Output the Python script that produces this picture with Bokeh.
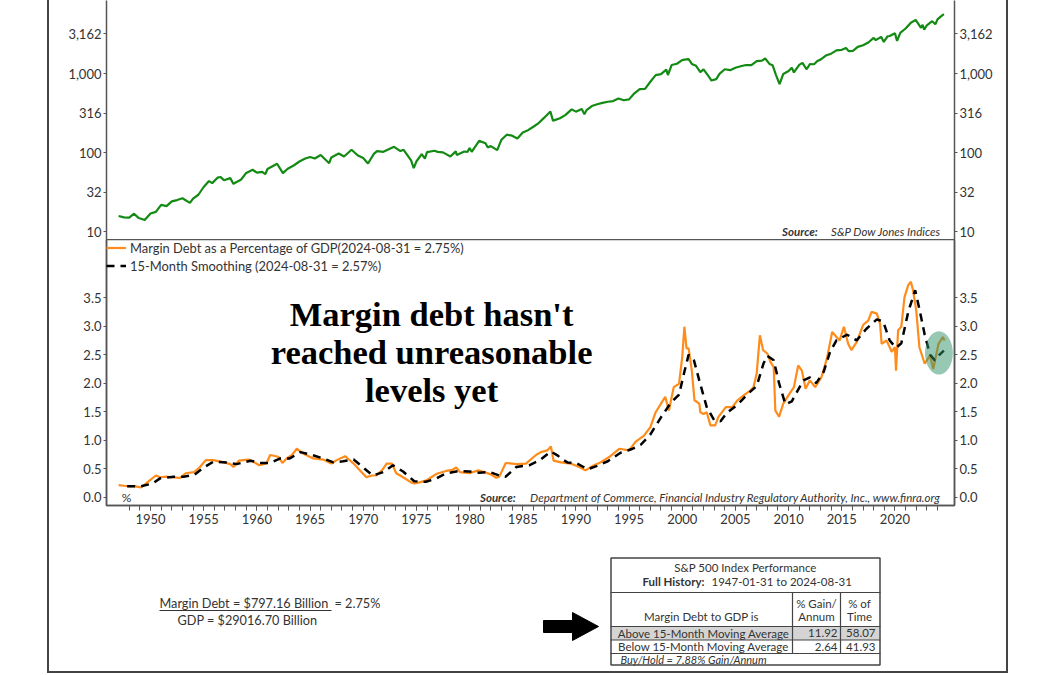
from bokeh.plotting import figure
from bokeh.models import (Range1d, LogAxis, LinearAxis, FixedTicker, NumeralTickFormatter,
                          Legend, LegendItem, Label)
from bokeh.layouts import column
from bokeh.embed import file_html
from bokeh.resources import INLINE

# ---------------- data ----------------
sp_years = [1947.0, 1947.5, 1948.0, 1948.45, 1948.9, 1949.45, 1950.0, 1950.5, 1951.0, 1951.5, 1952.0,
            1952.5, 1953.0, 1953.7, 1954.0, 1954.5, 1955.0, 1955.5, 1955.8, 1956.3, 1956.6, 1956.9,
            1957.5, 1957.8, 1958.0, 1958.5, 1959.0, 1959.6, 1960.0, 1960.5, 1960.8, 1961.0, 1961.9,
            1962.45, 1962.9, 1963.5, 1964.0, 1964.5, 1965.0, 1965.45, 1966.0, 1966.8, 1967.0, 1967.7,
            1968.2, 1968.9, 1969.5, 1970.0, 1970.45, 1971.0, 1971.3, 1971.9, 1972.9, 1973.5, 1973.8,
            1974.5, 1974.75, 1975.0, 1975.5, 1975.8, 1976.0, 1976.7, 1977.0, 1977.5, 1978.2, 1978.7,
            1978.8, 1979.5, 1979.8, 1980.0, 1980.2, 1980.9, 1981.5, 1981.7, 1982.0, 1982.6, 1983.0,
            1983.5, 1984.0, 1984.5, 1985.0, 1985.5, 1986.0, 1986.5, 1987.0, 1987.6, 1987.85, 1988.0,
            1988.5, 1989.0, 1989.6, 1990.0, 1990.55, 1990.8, 1991.0, 1991.5, 1992.0, 1992.5, 1993.0,
            1993.5, 1994.0, 1994.5, 1995.0, 1995.5, 1996.0, 1996.5, 1997.0, 1997.5, 1998.0, 1998.5,
            1998.65, 1999.0, 1999.5, 1999.95, 2000.2, 2000.6, 2000.9, 2001.3, 2001.7, 2002.0, 2002.5,
            2002.75, 2003.2, 2003.5, 2004.0, 2004.5, 2005.0, 2005.5, 2006.0, 2006.5, 2007.0, 2007.5,
            2007.8, 2008.2, 2008.5, 2008.8, 2009.15, 2009.5, 2010.0, 2010.3, 2010.5, 2011.0, 2011.3,
            2011.7, 2012.0, 2012.4, 2012.7, 2013.0, 2013.5, 2014.0, 2014.5, 2015.0, 2015.4, 2015.65,
            2016.05, 2016.5, 2017.0, 2017.5, 2018.0, 2018.2, 2018.7, 2018.95, 2019.3, 2019.5, 2020.0,
            2020.2, 2020.5, 2021.0, 2021.5, 2021.95, 2022.45, 2022.6, 2022.75, 2023.0, 2023.5, 2023.8,
            2024.0, 2024.3, 2024.6]
sp_vals = [15.7, 15.1, 15.0, 16.8, 14.8, 14.0, 16.9, 17.7, 21.7, 21.0, 24.1,
           25.0, 26.4, 23.0, 26.1, 29.2, 36.6, 43.5, 41.0, 48.0, 49.0, 44.5,
           47.4, 40.0, 41.7, 45.2, 55.2, 60.5, 55.6, 56.9, 53.4, 61.8, 72.0,
           54.8, 62.3, 69.0, 77.0, 83.2, 87.6, 84.1, 92.9, 73.2, 86.6, 97.0,
           89.0, 108.4, 91.8, 85.0, 72.7, 95.9, 103.9, 102.1, 118.1, 104.3, 108.3,
           79.3, 63.5, 77.0, 95.2, 83.9, 100.9, 105.2, 102.0, 100.5, 89.2, 103.3,
           93.2, 102.9, 101.8, 114.2, 102.1, 140.5, 131.2, 116.2, 120.4, 107.1, 145.3,
           168.1, 163.4, 150.7, 179.6, 191.9, 211.8, 236.1, 274.1, 329.8, 251.8, 257.1,
           272.0, 297.5, 351.5, 329.1, 356.2, 304.0, 343.9, 387.8, 408.8, 424.2, 438.8,
           448.1, 481.6, 458.3, 470.4, 562.1, 636.0, 639.9, 786.2, 954.3, 980.3, 1120.7,
           957.3, 1279.6, 1328.7, 1469.3, 1498.6, 1517.7, 1320.3, 1249.5, 1040.9, 1130.2, 911.6,
           815.3, 848.2, 990.3, 1131.1, 1101.7, 1181.3, 1234.2, 1280.1, 1276.7, 1438.2, 1455.3,
           1549.4, 1322.7, 1267.4, 968.8, 735.1, 987.5, 1073.9, 1186.7, 1030.7, 1286.1, 1363.6,
           1131.4, 1312.4, 1310.3, 1440.7, 1498.1, 1685.7, 1782.6, 1960.2, 1995.0, 2107.4, 1920.0,
           1932.2, 2170.0, 2278.9, 2470.3, 2823.8, 2640.9, 2914.0, 2506.9, 2945.8, 2980.4, 3225.5,
           2585.0, 3271.1, 3714.2, 4395.3, 4766.2, 3785.4, 4130.3, 3585.6, 4076.6, 4588.9, 4193.8,
           4845.7, 5254.4, 5648.4]

md_years = [1947.0, 1947.5, 1948.1, 1948.6, 1949.1, 1949.7, 1950.5, 1950.9, 1951.5, 1951.9, 1952.8,
            1953.3, 1954.1, 1954.6, 1955.2, 1955.9, 1956.9, 1957.5, 1957.8, 1958.3, 1959.2, 1959.7,
            1960.2, 1960.9, 1961.25, 1962.0, 1962.4, 1962.8, 1963.3, 1963.75, 1964.4, 1965.3, 1966.25,
            1967.0, 1967.5, 1968.3, 1968.6, 1969.1, 1969.7, 1970.3, 1970.8, 1971.25, 1971.8, 1972.2,
            1972.7, 1973.1, 1973.75, 1974.5, 1974.8, 1975.3, 1975.9, 1976.4, 1976.9, 1977.8, 1978.4,
            1978.75, 1979.1, 1980.0, 1980.8, 1981.4, 1982.0, 1982.5, 1982.8, 1983.4, 1984.4, 1985.3,
            1986.25, 1986.7, 1987.3, 1987.65, 1987.9, 1988.6, 1989.5, 1990.3, 1990.9, 1991.7, 1992.3,
            1993.1, 1994.1, 1995.0, 1995.6, 1996.4, 1997.0, 1997.5, 1998.0, 1998.4, 1998.75, 1999.2,
            1999.7, 2000.0, 2000.2, 2000.4, 2000.6, 2000.9, 2001.15, 2001.6, 2001.7, 2002.0, 2002.3,
            2002.65, 2003.1, 2003.4, 2004.1, 2004.7, 2005.2, 2005.8, 2006.4, 2006.7, 2007.0, 2007.3,
            2007.6, 2008.0, 2008.3, 2008.6, 2008.75, 2009.1, 2009.5, 2010.0, 2010.5, 2010.9, 2011.25,
            2011.6, 2012.0, 2012.5, 2013.1, 2013.6, 2014.1, 2014.5, 2014.8, 2015.2, 2015.6, 2015.9,
            2016.4, 2017.0, 2017.5, 2017.8, 2018.3, 2018.6, 2018.75, 2019.2, 2019.7, 2020.0, 2020.1,
            2020.3, 2020.6, 2020.9, 2021.25, 2021.5, 2021.7, 2022.0, 2022.3, 2022.8, 2023.3, 2023.6,
            2024.1, 2024.5, 2024.67]
md_vals = [0.21, 0.20, 0.19, 0.19, 0.17, 0.26, 0.38, 0.35, 0.36, 0.35, 0.34,
           0.42, 0.44, 0.52, 0.65, 0.65, 0.61, 0.58, 0.53, 0.64, 0.66, 0.62,
           0.56, 0.59, 0.74, 0.71, 0.60, 0.68, 0.74, 0.85, 0.76, 0.68, 0.66,
           0.59, 0.65, 0.72, 0.67, 0.59, 0.47, 0.35, 0.38, 0.38, 0.48, 0.59,
           0.59, 0.42, 0.35, 0.26, 0.24, 0.26, 0.29, 0.35, 0.41, 0.46, 0.48,
           0.52, 0.44, 0.42, 0.47, 0.44, 0.40, 0.34, 0.36, 0.60, 0.58, 0.59,
           0.74, 0.79, 0.82, 0.89, 0.64, 0.61, 0.59, 0.53, 0.47, 0.56, 0.61,
           0.70, 0.85, 0.82, 0.97, 1.08, 1.23, 1.49, 1.64, 1.76, 1.52, 1.93,
           1.99, 2.46, 2.99, 2.61, 2.61, 2.22, 1.70, 1.64, 1.49, 1.46, 1.49,
           1.26, 1.26, 1.41, 1.58, 1.58, 1.70, 1.79, 1.87, 1.93, 2.17, 2.84,
           2.58, 2.52, 2.37, 2.28, 1.52, 1.41, 1.64, 1.79, 1.93, 2.31, 2.22,
           1.90, 2.05, 1.93, 2.11, 2.43, 2.90, 2.81, 2.75, 2.99, 2.69, 2.58,
           2.72, 3.02, 3.10, 3.25, 3.22, 3.04, 2.69, 2.75, 2.55, 2.63, 2.22,
           2.93, 2.99, 3.51, 3.72, 3.78, 3.63, 3.28, 2.63, 2.34, 2.49, 2.25,
           2.69, 2.81, 2.75]

sm_years = [1947.8, 1949.1, 1950.2, 1950.9, 1952.2, 1953.1, 1954.1, 1955.0, 1955.9, 1957.2, 1958.1,
            1959.4, 1960.3, 1961.25, 1962.2, 1963.1, 1964.1, 1965.0, 1966.25, 1967.2, 1968.1, 1969.1,
            1970.0, 1970.9, 1971.9, 1972.8, 1973.75, 1974.8, 1975.9, 1976.9, 1977.8, 1979.1, 1980.0,
            1980.9, 1981.9, 1982.8, 1983.4, 1984.4, 1985.6, 1986.6, 1987.65, 1988.3, 1988.6, 1989.2,
            1990.0, 1991.1, 1992.0, 1993.0, 1994.2, 1995.2, 1996.1, 1997.0, 1998.0, 1998.9, 1999.7,
            2000.2, 2000.6, 2001.1, 2001.6, 2002.3, 2003.0, 2003.6, 2004.2, 2005.2, 2006.1, 2007.0,
            2007.65, 2008.0, 2008.6, 2009.1, 2009.7, 2010.3, 2010.8, 2011.4, 2012.0, 2012.6, 2013.3,
            2013.9, 2014.5, 2015.5, 2016.4, 2017.3, 2018.3, 2018.9, 2019.5, 2020.1, 2020.6, 2021.25,
            2021.9, 2022.3, 2022.8, 2023.3, 2023.75, 2024.2, 2024.6]
sm_vals = [0.19, 0.19, 0.24, 0.33, 0.36, 0.36, 0.39, 0.52, 0.62, 0.61, 0.58,
           0.64, 0.60, 0.60, 0.68, 0.68, 0.79, 0.75, 0.68, 0.61, 0.63, 0.66,
           0.52, 0.38, 0.44, 0.56, 0.45, 0.28, 0.27, 0.33, 0.42, 0.46, 0.45,
           0.43, 0.44, 0.38, 0.36, 0.53, 0.56, 0.65, 0.80, 0.73, 0.68, 0.61,
           0.60, 0.49, 0.55, 0.63, 0.78, 0.84, 0.92, 1.10, 1.40, 1.65, 1.80,
           2.20, 2.50, 2.40, 2.05, 1.58, 1.35, 1.33, 1.48, 1.62, 1.80, 1.95,
           2.35, 2.48, 2.40, 2.00, 1.63, 1.68, 1.85, 2.05, 2.10, 2.00, 2.20,
           2.55, 2.75, 2.85, 2.75, 2.95, 3.12, 3.08, 2.75, 2.62, 2.70, 3.25,
           3.63, 3.30, 2.85, 2.50, 2.40, 2.50, 2.57]

sp_tick_vals = [10, 31.6227766, 100, 316.227766, 1000, 3162.27766]
sp_tick_labels = ["10", "32", "100", "316", "1,000", "3,162"]
md_tick_vals = [0.0, 0.5, 1.0, 1.5, 2.0, 2.5, 3.0, 3.5]
year_ticks = list(range(1950, 2021, 5))
year_minor = list(range(1948, 2025))

md_label = "Margin Debt as a Percentage of GDP(2024-08-31 = 2.75%)"
sm_label = "15-Month Smoothing (2024-08-31 = 2.57%)"
highlight_from = 2022.8

table_title = "S&P 500 Index Performance"
table_hist_key = "Full History:"
table_hist_val = "1947-01-31 to 2024-08-31"
table_rows = ["Above 15-Month Moving Average", "Below 15-Month Moving Average"]
table_gain = ["11.92", "2.64"]
table_time = ["58.07", "41.93"]
table_foot = "Buy/Hold = 7.88% Gain/Annum"

FONT = "Lato"
TXT = "#333333"
AX = "#555555"
BOXC = "#444444"

xr = Range1d(1945.86, 2025.6)


def style_axis(ax):
    ax.axis_line_color = AX
    ax.axis_line_width = 1.5
    ax.major_tick_line_color = AX
    ax.major_tick_in = 0
    ax.major_tick_out = 3
    ax.minor_tick_line_color = None
    ax.major_label_text_font = FONT
    ax.major_label_text_font_size = "13px"
    ax.major_label_text_color = TXT
    ax.major_label_standoff = 2


# ---------------- top panel: S&P 500 ----------------
p1 = figure(width=1056, height=239, x_range=xr, y_range=Range1d(10 ** 0.899, 10 ** 3.924),
            y_axis_type="log", x_axis_location=None, y_axis_location=None,
            output_backend="svg", toolbar_location=None,
            min_border_left=106, min_border_right=102, min_border_top=0, min_border_bottom=0)
p1.grid.visible = False
p1.outline_line_color = None
p1.background_fill_color = "white"
p1.border_fill_color = None
for side in ("left", "right"):
    ax = LogAxis(ticker=FixedTicker(ticks=sp_tick_vals),
                 major_label_overrides=dict(zip(sp_tick_vals, sp_tick_labels)))
    style_axis(ax)
    p1.add_layout(ax, side)
p1.line(sp_years, sp_vals, line_color="#138a13", line_width=2.2)
p1.add_layout(Label(x=2012.75, y=10, text="Source:", text_align="right", text_baseline="middle",
                    text_font=FONT, text_font_style="bold italic", text_font_size="11.5px",
                    text_color=TXT))
p1.add_layout(Label(x=2024.32, y=10, text="S&P Dow Jones Indices", text_align="right",
                    text_baseline="middle", text_font=FONT, text_font_style="italic",
                    text_font_size="11.5px", text_color=TXT))

# ---------------- bottom panel: margin debt / GDP ----------------
p2 = figure(width=1056, height=306, x_range=xr, y_range=Range1d(-0.146, 4.52),
            x_axis_location="below", y_axis_location=None,
            output_backend="svg", toolbar_location=None,
            min_border_left=106, min_border_right=102, min_border_top=0, min_border_bottom=40)
p2.grid.visible = False
p2.outline_line_color = AX
p2.outline_line_width = 1.5
p2.background_fill_color = "white"
p2.border_fill_color = None
xa = p2.xaxis[0]
xa.ticker = FixedTicker(ticks=year_ticks, minor_ticks=year_minor)
xa.axis_line_color = AX
xa.axis_line_width = 1.5
xa.major_tick_line_color = AX
xa.minor_tick_line_color = AX
xa.major_tick_in = 0
xa.minor_tick_in = 0
xa.major_tick_out = 5
xa.minor_tick_out = 5
xa.major_label_text_font = FONT
xa.major_label_text_font_size = "13px"
xa.major_label_text_color = TXT
xa.major_label_standoff = 3
for side in ("left", "right"):
    ax = LinearAxis(ticker=FixedTicker(ticks=md_tick_vals), formatter=NumeralTickFormatter(format="0.0"))
    style_axis(ax)
    p2.add_layout(ax, side)

r_md = p2.line(md_years, md_vals, line_color="#ff8c1a", line_width=2.2)
r_sm = p2.line(sm_years, sm_vals, line_color="black", line_width=2.5, line_dash="8 6")

# highlight ellipse around the most recent readings
hx = [x for x in md_years if x >= highlight_from]
hy = [v for x, v in zip(md_years, md_vals) if x >= highlight_from]
p2.ellipse(x=[(min(hx) + max(hx)) / 2 + 0.4], y=[(min(hy) + max(hy)) / 2],
           width=(max(hx) - min(hx)) + 0.75, height=(max(hy) - min(hy)) + 0.2,
           fill_color="#2d9169", fill_alpha=0.5, line_alpha=0)

leg = Legend(items=[LegendItem(label=md_label, renderers=[r_md]),
                    LegendItem(label=sm_label, renderers=[r_sm])],
             location="top_left", margin=0, padding=0, spacing=1,
             label_height=17, glyph_height=17, glyph_width=20, label_standoff=4,
             border_line_alpha=0, background_fill_alpha=0,
             label_text_font=FONT, label_text_font_size="12.9px", label_text_color=TXT)
p2.add_layout(leg)

p2.add_layout(Label(x=1976.43, y=2.54, text="Margin debt hasn't\nreached unreasonable\nlevels yet",
                    text_align="center", text_baseline="middle", text_font="Liberation Serif",
                    text_font_style="bold", text_font_size="34.5px", text_color="black",
                    text_line_height=1.0))
p2.add_layout(Label(x=1947.74, y=0.0, text="%", text_align="center", text_baseline="middle",
                    text_font=FONT, text_font_size="12px", text_color=TXT))
p2.add_layout(Label(x=1984.34, y=0.0, text="Source:", text_align="right", text_baseline="middle",
                    text_font=FONT, text_font_style="bold italic", text_font_size="11.5px",
                    text_color=TXT))
p2.add_layout(Label(x=2024.32, y=0.0,
                    text="Department of Commerce, Financial Industry Regulatory Authority, Inc., www.finra.org",
                    text_align="right", text_baseline="middle", text_font=FONT,
                    text_font_style="italic", text_font_size="11.5px", text_color=TXT))

# ---------------- bottom strip: ratio text and table (pixel-like coordinates) ----------------
p3 = figure(width=1056, height=130, x_range=Range1d(106, 954), y_range=Range1d(675, 545),
            x_axis_location=None, y_axis_location=None, output_backend="svg",
            toolbar_location=None, min_border_left=106, min_border_right=102,
            min_border_top=0, min_border_bottom=0)
p3.grid.visible = False
p3.outline_line_color = None
p3.background_fill_color = None
p3.border_fill_color = None


def t(x, y, s, align="left", style="normal", size="11.5px"):
    p3.add_layout(Label(x=x, y=y, text=s, text_align=align, text_baseline="middle",
                        text_font=FONT, text_font_style=style, text_font_size=size,
                        text_color=TXT))


t(159, 602.5, "Margin Debt = $797.16 Billion", size="12.7px")
t(334, 602.5, "= 2.75%", size="12.7px")
t(177, 619, "GDP = $29016.70 Billion", size="12.7px")
p3.segment(x0=[159], y0=[610], x1=[331], y1=[610], line_color=TXT, line_width=1)

# arrow
p3.patch(x=[543, 572, 572, 598, 572, 572, 543], y=[620, 620, 612, 626, 640, 632, 632],
         fill_color="black", line_color="black", line_width=1)

# table
p3.quad(left=[611], right=[879], top=[626], bottom=[639.5], fill_color="#d4d4d4", line_alpha=0)
p3.quad(left=[610.5], right=[879.5], top=[557.5], bottom=[664.5], fill_alpha=0,
        line_color=BOXC, line_width=1.5)
p3.segment(x0=[610, 610, 610, 610, 792, 840], y0=[592, 626, 639.5, 653, 592, 592],
           x1=[880, 880, 880, 880, 792, 840], y1=[592, 626, 639.5, 653, 653, 653],
           line_color=BOXC, line_width=1.2)
t(745, 567, table_title, align="center")
t(704, 581, table_hist_key, align="right", style="bold")
t(711, 581, table_hist_val)
t(816, 603, "% Gain/", align="center")
t(816, 616, "Annum", align="center")
t(859, 603, "% of", align="center")
t(859, 616, "Time", align="center")
t(701, 616, "Margin Debt to GDP is", align="center")
for i, (name, g, tm) in enumerate(zip(table_rows, table_gain, table_time)):
    yy = 632.8 + i * 13.6
    t(703, yy, name, align="center")
    t(837, yy, g, align="right")
    t(875, yy, tm, align="right")
t(620, 659, table_foot, style="italic", size="11px")

# outer frame of the whole page, drawn as the layout's background (three thin bars)
frame_css = {
    "background-color": "white",
    "background-image": "linear-gradient(#444444, #444444), linear-gradient(#444444, #444444), "
                        "linear-gradient(#444444, #444444)",
    "background-size": "2px 673px, 2px 673px, 961px 2px",
    "background-position": "47px 0px, 1006px 0px, 47px 671px",
    "background-repeat": "no-repeat",
}
layout = column(p1, p2, p3, spacing=0, styles=frame_css)
open("out.html", "w").write(file_html(layout, INLINE))
